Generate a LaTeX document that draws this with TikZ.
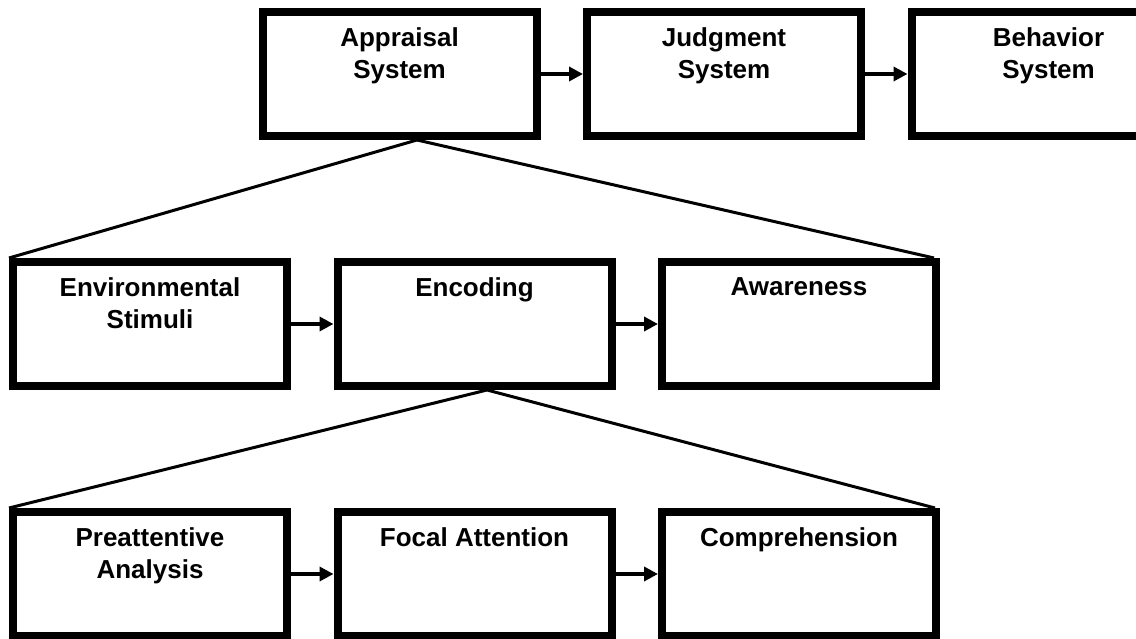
\documentclass[tikz,border=0pt]{standalone}
\usepackage{fontspec}
\setmainfont{Liberation Sans}
\usetikzlibrary{arrows.meta,positioning}
\tikzset{>={Triangle[length=14pt,width=14pt]},
  blk/.style={draw,line width=8pt,minimum width=274pt,minimum height=124pt,inner sep=0pt},
  txt/.style={anchor=north,align=center,inner sep=0pt,font=\bfseries\fontsize{26}{32}\selectfont},
  flow/.style={->,line width=4pt},
  fan/.style={line width=3pt}}
\begin{document}
\begin{tikzpicture}[x=1pt,y=1pt]
\useasboundingbox(0,0)rectangle(1136,638);
\clip(0,0)rectangle(1136,638);
% three levels, each box with its caption near the top
\foreach \n/\x/\y/\t in {app/399.5/564/{Appraisal\\System},jud/724/564/{Judgment\\System},beh/1048.5/564/{Behavior\\System},
  env/150/314/{Environmental\\Stimuli},enc/474.5/314/{Encoding},awa/799/314/{Awareness},
  pre/150/64/{Preattentive\\Analysis},foc/474.5/64/{Focal Attention},com/799/64/{Comprehension}}{
  \node[blk](\n)at(\x,\y){};\node[txt](\n t)at([yshift=-19pt]\n.north){\t};}
\foreach \a/\b in {app/jud,jud/beh,env/enc,enc/awa,pre/foc,foc/com}{\draw[flow](\a)--(\b);}
% expansion of one stage into the level below
\draw[fan](env.north west)--([xshift=17.5pt]app.south)--([xshift=-6pt]awa.north east);
\draw[fan](pre.north west)--([xshift=12.5pt]enc.south)--([xshift=-5pt]com.north east);
\end{tikzpicture}
\end{document}
